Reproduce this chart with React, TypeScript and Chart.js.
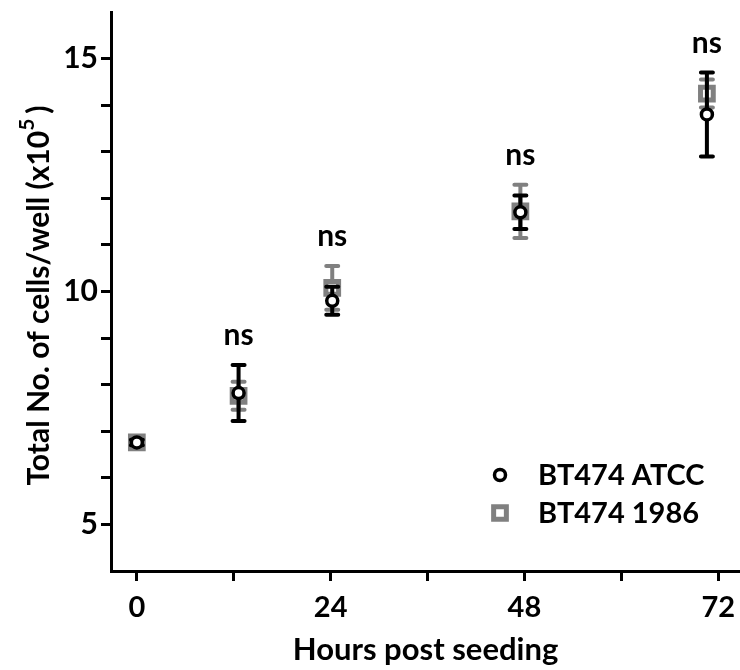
import React, { useEffect, useRef } from 'react';
import { Chart, registerables } from 'chart.js';

Chart.register(...registerables);

// ---- data ----
const hours = [0, 12.6, 24.2, 47.5, 70.6];
const atccMean = [6.76, 7.82, 9.8, 11.7, 13.8];
const atccErr = [0.06, 0.6, 0.3, 0.36, 0.9];
const b1986Mean = [6.76, 7.76, 10.08, 11.72, 14.25];
const b1986Err = [0.06, 0.3, 0.47, 0.57, 0.3];
const significance = ['', 'ns', 'ns', 'ns', 'ns'];
const seriesNames = ['BT474 ATCC', 'BT474 1986'];
const xTickValues = [0, 12, 24, 36, 48, 60, 72];
const xLabelledTicks = [0, 24, 48, 72];
const yTickValues = [5, 6, 7, 8, 9, 10, 11, 12, 13, 14, 15];
const yLabelledTicks = [5, 10, 15];
const xTitle = 'Hours post seeding';
const yTitleMain = 'Total No. of cells/well (x10';
const yTitleSup = '5';
const yTitleEnd = ')';

const FONT = 'Lato, "Open Sans", sans-serif';
const BLACK = '#000000';
const GREY = '#808080';

const annotatePlugin = {
  id: 'annotate',
  beforeDatasetDraw(chart: any, args: any) {
    const ds: any = chart.data.datasets[args.index];
    const errs: number[] = ds.errorValues;
    if (!errs) return;
    const { ctx, scales } = chart;
    const x = scales.x;
    const y = scales.y;
    ctx.save();
    ctx.strokeStyle = ds.borderColor;
    ctx.lineWidth = 4;
    ctx.lineCap = 'round';
    ds.data.forEach((pt: any, i: number) => {
      const px = x.getPixelForValue(pt.x);
      const top = y.getPixelForValue(pt.y + errs[i]);
      const bot = y.getPixelForValue(pt.y - errs[i]);
      ctx.beginPath();
      ctx.moveTo(px, top);
      ctx.lineTo(px, bot);
      ctx.moveTo(px - 6, top);
      ctx.lineTo(px + 6, top);
      ctx.moveTo(px - 6, bot);
      ctx.lineTo(px + 6, bot);
      ctx.stroke();
    });
    ctx.restore();
  },
  afterDatasetsDraw(chart: any) {
    const { ctx, scales } = chart;
    const x = scales.x;
    const y = scales.y;
    ctx.save();
    ctx.fillStyle = BLACK;
    ctx.font = `bold 30px ${FONT}`;
    ctx.textAlign = 'center';
    ctx.textBaseline = 'alphabetic';
    significance.forEach((label, i) => {
      if (!label) return;
      let topPx = Infinity;
      chart.data.datasets.forEach((ds: any) => {
        const pt = ds.data[i];
        topPx = Math.min(topPx, y.getPixelForValue(pt.y + ds.errorValues[i]));
      });
      const px = x.getPixelForValue(chart.data.datasets[0].data[i].x);
      ctx.fillText(label, px, topPx - 20);
    });
    ctx.restore();
  },
  afterDraw(chart: any) {
    const { ctx, chartArea } = chart;
    ctx.save();
    // legend
    const mx = chartArea.right - 240;
    const rows = [chartArea.bottom - 96, chartArea.bottom - 58];
    chart.data.datasets.forEach((ds: any, i: number) => {
      const cy = rows[i];
      ctx.lineWidth = ds.pointBorderWidth;
      ctx.strokeStyle = ds.borderColor;
      ctx.fillStyle = ds.pointBackgroundColor;
      ctx.beginPath();
      if (ds.pointStyle === 'circle') {
        ctx.arc(mx, cy, ds.pointRadius, 0, Math.PI * 2);
      } else {
        const h = ds.pointRadius * Math.SQRT1_2;
        ctx.rect(mx - h, cy - h, 2 * h, 2 * h);
      }
      ctx.fill();
      ctx.stroke();
      ctx.fillStyle = BLACK;
      ctx.font = `bold 29px ${FONT}`;
      ctx.textAlign = 'left';
      ctx.textBaseline = 'middle';
      ctx.fillText(ds.label, mx + 38, cy + 1);
    });
    // y axis title with superscript
    const cx = 39;
    const cyT = (chartArea.top + chartArea.bottom) / 2 + 4;
    const mainFont = `bold 30px ${FONT}`;
    const supFont = `bold 21px ${FONT}`;
    ctx.font = mainFont;
    const w1 = ctx.measureText(yTitleMain).width;
    const w3 = ctx.measureText(yTitleEnd).width;
    ctx.font = supFont;
    const w2 = ctx.measureText(yTitleSup).width;
    const total = w1 + w2 + w3 + 5;
    ctx.translate(cx, cyT);
    ctx.rotate(-Math.PI / 2);
    ctx.fillStyle = BLACK;
    ctx.textAlign = 'left';
    ctx.textBaseline = 'middle';
    let sx = -total / 2;
    ctx.font = mainFont;
    ctx.fillText(yTitleMain, sx, 0);
    sx += w1;
    ctx.font = supFont;
    ctx.fillText(yTitleSup, sx, -12);
    sx += w2 + 5;
    ctx.font = mainFont;
    ctx.fillText(yTitleEnd, sx, 0);
    ctx.restore();
  },
};

export default function App() {
  const ref = useRef<HTMLCanvasElement | null>(null);
  useEffect(() => {
    if (!ref.current) return;
    const chart = new Chart(ref.current, {
      type: 'scatter',
      data: {
        datasets: [
          {
            label: seriesNames[0],
            data: hours.map((h, i) => ({ x: h, y: atccMean[i] })),
            errorValues: atccErr,
            borderColor: BLACK,
            backgroundColor: '#ffffff',
            pointBackgroundColor: '#ffffff',
            pointStyle: 'circle',
            pointRadius: 5.5,
            pointBorderWidth: 3.5,
            showLine: false,
          } as any,
          {
            label: seriesNames[1],
            data: hours.map((h, i) => ({ x: h, y: b1986Mean[i] })),
            errorValues: b1986Err,
            borderColor: GREY,
            backgroundColor: '#ffffff',
            pointBackgroundColor: '#ffffff',
            pointStyle: 'rect',
            pointRadius: 9,
            pointBorderWidth: 5,
            showLine: false,
          } as any,
        ],
      },
      options: {
        animation: false,
        responsive: false,
        maintainAspectRatio: false,
        layout: { autoPadding: false, padding: { top: 12, right: 0, left: 0, bottom: 0 } },
        plugins: { legend: { display: false }, tooltip: { enabled: false } },
        scales: {
          x: {
            type: 'linear',
            min: -3.2,
            max: 74.7,
            afterFit: (s: any) => {
              s.height = 99;
              s.paddingLeft = 0;
              s.paddingRight = 0;
            },
            afterBuildTicks: (s: any) => { s.ticks = xTickValues.map((v) => ({ value: v })); },
            border: { display: true, color: BLACK, width: 3 },
            grid: { display: true, drawOnChartArea: false, drawTicks: true, tickLength: 10, color: BLACK, lineWidth: 3 },
            ticks: {
              color: BLACK,
              padding: 9,
              maxRotation: 0,
              autoSkip: false,
              font: { family: FONT, size: 29, weight: 'bold' },
              callback: (v: any) => (xLabelledTicks.includes(Number(v)) ? String(v) : ''),
            },
            title: {
              display: true,
              text: xTitle,
              color: BLACK,
              font: { family: FONT, size: 31, weight: 'bold' },
              padding: { top: 0, bottom: 1 },
            },
          },
          y: {
            type: 'linear',
            min: 4,
            max: 16,
            afterFit: (s: any) => {
              s.width = 111;
              s.paddingTop = 0;
              s.paddingBottom = 0;
            },
            afterBuildTicks: (s: any) => { s.ticks = yTickValues.map((v) => ({ value: v })); },
            border: { display: true, color: BLACK, width: 3 },
            grid: { display: true, drawOnChartArea: false, drawTicks: true, tickLength: 10, color: BLACK, lineWidth: 3 },
            ticks: {
              color: BLACK,
              padding: 3,
              autoSkip: false,
              font: { family: FONT, size: 30, weight: 'bold' },
              callback: (v: any) => (yLabelledTicks.includes(Number(v)) ? String(v) : ''),
            },
          },
        },
      } as any,
      plugins: [annotatePlugin],
    });
    return () => chart.destroy();
  }, []);
  return (
    <div style={{ position: 'absolute', left: 0, top: 0, width: 740, height: 670, background: '#fff' }}>
      <canvas ref={ref} width={740} height={670} style={{ display: 'block', width: 740, height: 670 }} />
    </div>
  );
}
